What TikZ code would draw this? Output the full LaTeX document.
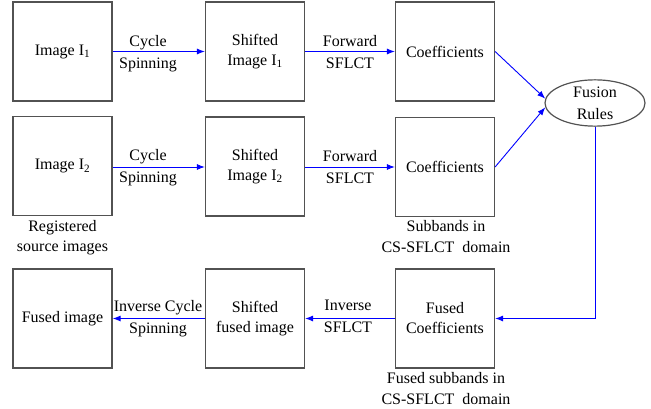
\documentclass[tikz,border=0pt]{standalone}
\usepackage{fontspec}
\setmainfont{Liberation Serif}
\usetikzlibrary{arrows.meta,shapes.geometric}
\begin{document}
\begin{tikzpicture}[x=1pt,y=-1pt,
  font=\fontsize{16}{20}\selectfont,
  blockbox/.style={draw=black!68,line width=1.2pt,minimum width=99pt,minimum height=99pt,
    inner sep=0pt,align=center},
  flow/.style={draw=blue,line width=0.9pt,-{Latex[length=8pt,width=6pt]}},
  steplabel/.style={align=center,inner sep=0pt,font=\fontsize{16}{22}\selectfont},
  note/.style={align=center,inner sep=0pt,font=\fontsize{16}{20.5}\selectfont}]
\useasboundingbox (0,0) rectangle (651,409);

% top row
\node[blockbox] (img1) at (62.5,51.5) {Image I\textsubscript{1}};
\node[blockbox] (sh1)  at (255,51.5) {Shifted\\Image I\textsubscript{1}};
\node[blockbox] (co1)  at (445,51.5) {Coefficients};

% middle row
\node[blockbox] (img2) at (62.5,166) {Image I\textsubscript{2}};
\node[blockbox] (sh2)  at (255,166.5) {Shifted\\Image I\textsubscript{2}};
\node[blockbox] (co2)  at (445,167) {Coefficients};

% bottom row
\node[blockbox] (fused) at (62.5,318.5) {Fused image};
\node[blockbox] (shf)   at (255,318.5) {Shifted\\fused image};
\node[blockbox] (fco)   at (445,318.5) {Fused\\Coefficients};

% fusion rules
\node[ellipse,draw=black!68,line width=1.2pt,minimum width=100pt,minimum height=44pt,
  inner sep=0pt,align=center,font=\fontsize{16}{22}\selectfont] (fr) at (595,103) {Fusion\\Rules};

% connectors
\draw[flow] (img1) -- (sh1);
\draw[flow] (sh1) -- (co1);
\draw[flow] (img2.east |- 0,167) -- (sh2.west |- 0,167);
\draw[flow] (sh2.east |- 0,167) -- (co2.west |- 0,167);
\draw[flow] (co1.east) -- (fr.175);
\draw[flow] (co2.east) -- (fr.185);
\draw[flow] (fr.south) |- (fco.east);
\draw[flow] (fco) -- (shf);
\draw[flow] (shf) -- (fused);

% connector labels
\node[steplabel] (l1) at (148,54) {Cycle\\Spinning};
\node[steplabel] (l2) at (350,52.5) {Forward\\SFLCT};
\node[steplabel] (l3) at (148,167.5) {Cycle\\Spinning};
\node[steplabel] (l4) at (350,167) {Forward\\SFLCT};
\node[steplabel] (l5) at (158,318.5) {Inverse Cycle\\Spinning};
\node[steplabel] (l6) at (348,316.5) {Inverse\\SFLCT};

% captions
\node[note] (n1) at (62.5,237.5) {Registered\\source images};
\node[note] (n2) at (446,236.5) {Subbands in\\CS-SFLCT\ \ domain};
\node[note] (n3) at (446,388.5) {Fused subbands in\\CS-SFLCT\ \ domain};
\end{tikzpicture}
\end{document}
